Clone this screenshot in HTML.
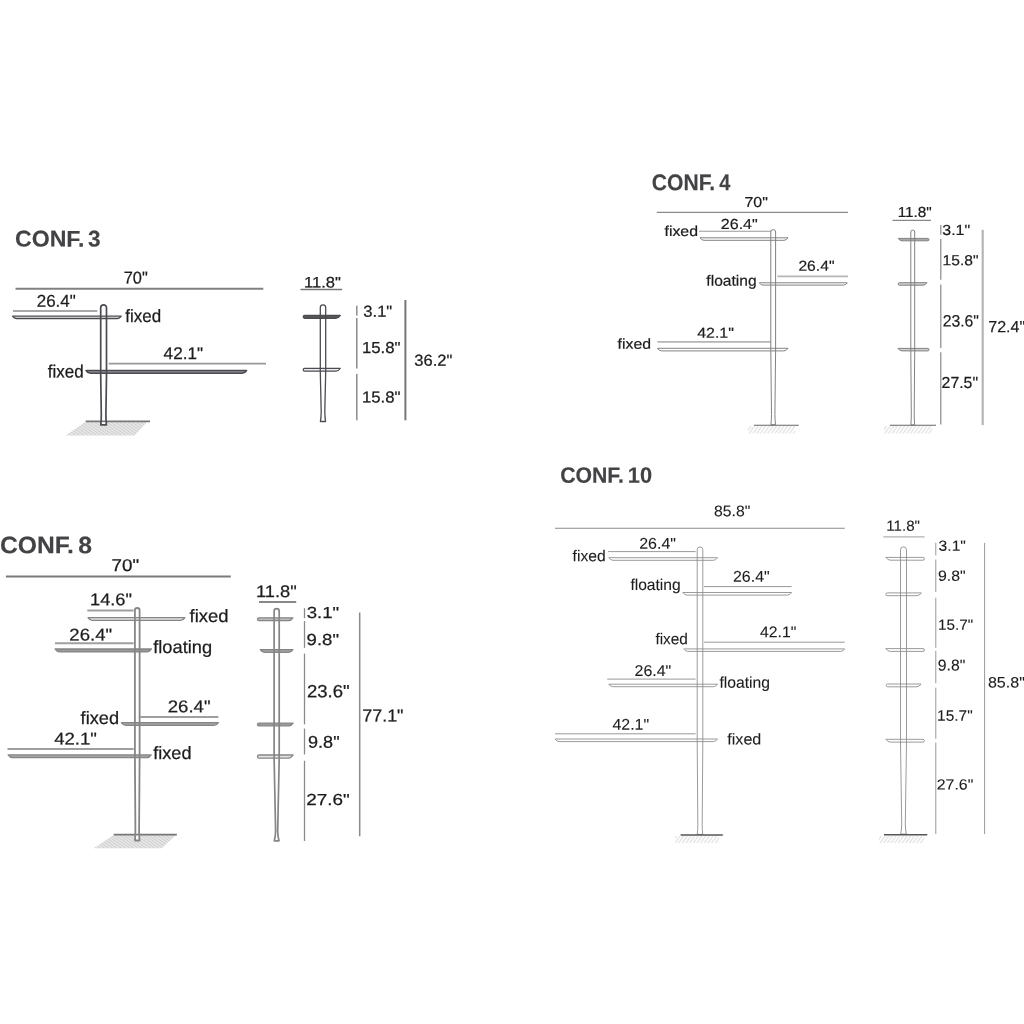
<!DOCTYPE html>
<html><head><meta charset="utf-8"><title>Configurations</title>
<style>
html,body{margin:0;padding:0;background:#fff;}
svg{display:block;filter:blur(0.35px);}
text{font-family:"Liberation Sans",sans-serif;}
</style></head><body>
<svg width="1024" height="1024" viewBox="0 0 1024 1024">
<defs>
<pattern id="hatA" width="2.4" height="2.4" patternUnits="userSpaceOnUse" patternTransform="rotate(35)"><rect width="2.4" height="2.4" fill="#ececec"/><line x1="0" y1="1.2" x2="2.4" y2="1.2" stroke="#cdcdcd" stroke-width="1.1"/></pattern>
<pattern id="hatB" width="3" height="3" patternUnits="userSpaceOnUse" patternTransform="rotate(-55)"><line x1="0" y1="1.5" x2="3" y2="1.5" stroke="#e0e0e0" stroke-width="1.2"/></pattern>
</defs>
<rect width="1024" height="1024" fill="#fff"/>
<text transform="rotate(0.04 15.0 246.6)" x="14.99" y="246.60" font-size="22.82" textLength="69.35" lengthAdjust="spacingAndGlyphs" fill="#434346" stroke="#434346" stroke-width="0.15" font-weight="bold">CONF.</text>
<text transform="rotate(0.04 88.1 246.6)" x="88.08" y="246.60" font-size="22.82" textLength="12.53" lengthAdjust="spacingAndGlyphs" fill="#434346" stroke="#434346" stroke-width="0.15" font-weight="bold">3</text>
<text transform="rotate(0.04 123.7 283.5)" x="123.66" y="283.50" font-size="17.15" textLength="24.04" lengthAdjust="spacingAndGlyphs" fill="#1c1c1c" stroke="#1c1c1c" stroke-width="0.25">70&quot;</text>
<line x1="15.5" y1="288.7" x2="263.3" y2="288.7" stroke="#808080" stroke-width="2.0"/>
<text transform="rotate(0.04 36.7 306.8)" x="36.75" y="306.80" font-size="17.15" textLength="38.97" lengthAdjust="spacingAndGlyphs" fill="#1c1c1c" stroke="#1c1c1c" stroke-width="0.25">26.4&quot;</text>
<line x1="13" y1="310.9" x2="97.3" y2="310.9" stroke="#a8a8a8" stroke-width="2.0"/>
<polygon points="86,421.5 147.5,421.5 134.5,435.5 65.5,435.5" fill="url(#hatA)"/>
<line x1="85.7" y1="421.4" x2="150" y2="421.4" stroke="#777" stroke-width="1.8"/>
<path d="M12.6,316.2 L121.2,316.2 Q119.728,318.5 117.51999999999998,318.5 L16.28000000000002,318.5 Q14.072000000000006,318.5 12.6,316.2 Z" fill="#eee" stroke="#4b4b52" stroke-width="1.3" stroke-linejoin="round"/>
<path d="M86,370.5 L246.6,370.5 Q244.808,373.3 242.11999999999998,373.3 L90.48000000000002,373.3 Q87.792,373.3 86,370.5 Z" fill="#8e8e94" stroke="#4b4b52" stroke-width="1.4" stroke-linejoin="round"/>
<rect x="101.8" y="422.3" width="3.6" height="2.4" fill="#fff"/>
<path d="M100.79,424.8 Q101.30,419.8 101.30,414.8 L100.7,375 L100.7,307.7 A2.8999999999999986,2.8999999999999986 0 0 1 106.5,307.7 L106.5,375 L105.90,414.8 Q105.90,419.8 106.41,424.8 Z" fill="none" stroke="#4b4b52" stroke-width="1.7" stroke-linejoin="round"/>
<text transform="rotate(0.04 125.3 322.0)" x="125.26" y="322.00" font-size="17.88" textLength="35.83" lengthAdjust="spacingAndGlyphs" fill="#1c1c1c" stroke="#1c1c1c" stroke-width="0.25">fixed</text>
<text transform="rotate(0.04 163.6 358.9)" x="163.61" y="358.90" font-size="16.86" textLength="39.42" lengthAdjust="spacingAndGlyphs" fill="#1c1c1c" stroke="#1c1c1c" stroke-width="0.25">42.1&quot;</text>
<line x1="108.7" y1="363.6" x2="266" y2="363.6" stroke="#999" stroke-width="1.7"/>
<text transform="rotate(0.04 47.9 377.5)" x="47.86" y="377.50" font-size="17.88" textLength="35.94" lengthAdjust="spacingAndGlyphs" fill="#1c1c1c" stroke="#1c1c1c" stroke-width="0.25">fixed</text>
<text transform="rotate(0.04 304.1 287.6)" x="304.08" y="287.60" font-size="15.26" textLength="36.80" lengthAdjust="spacingAndGlyphs" fill="#1c1c1c" stroke="#1c1c1c" stroke-width="0.25">11.8&quot;</text>
<line x1="300.5" y1="289.5" x2="342.2" y2="289.5" stroke="#777" stroke-width="1.5"/>
<path d="M304.70,315.3 L340.4,315.3 Q338.48,318.3 335.60,318.3 L304.70,318.3 A1.50,1.50 0 0 1 304.70,315.3 Z" fill="#555" stroke="#4b4b52" stroke-width="1.2" stroke-linejoin="round"/>
<path d="M304.60,368.3 L340.4,368.3 Q338.61,371.1 335.92,371.1 L304.60,371.1 A1.40,1.40 0 0 1 304.60,368.3 Z" fill="#eee" stroke="#4b4b52" stroke-width="1.2" stroke-linejoin="round"/>
<path d="M320.44,421.5 Q321.20,416.5 321.20,411.5 L320.3,372 L320.3,307.5 A2.6999999999999886,2.6999999999999886 0 0 1 325.7,307.5 L325.7,372 L324.80,411.5 Q324.80,416.5 325.56,421.5 Z" fill="none" stroke="#4b4b52" stroke-width="1.3" stroke-linejoin="round"/>
<line x1="356.8" y1="305.7" x2="356.8" y2="315.4" stroke="#8c8c8c" stroke-width="1.5"/>
<line x1="356.8" y1="318" x2="356.8" y2="368.6" stroke="#8c8c8c" stroke-width="1.5"/>
<line x1="356.8" y1="374" x2="356.8" y2="420.3" stroke="#8c8c8c" stroke-width="1.5"/>
<line x1="405.4" y1="300" x2="405.4" y2="420.3" stroke="#777" stroke-width="2.0"/>
<text transform="rotate(0.04 363.4 316.7)" x="363.37" y="316.70" font-size="15.99" textLength="28.83" lengthAdjust="spacingAndGlyphs" fill="#1c1c1c" stroke="#1c1c1c" stroke-width="0.25">3.1&quot;</text>
<text transform="rotate(0.04 361.9 353.1)" x="361.92" y="353.10" font-size="15.99" textLength="38.59" lengthAdjust="spacingAndGlyphs" fill="#1c1c1c" stroke="#1c1c1c" stroke-width="0.25">15.8&quot;</text>
<text transform="rotate(0.04 361.9 402.5)" x="361.92" y="402.50" font-size="15.99" textLength="38.59" lengthAdjust="spacingAndGlyphs" fill="#1c1c1c" stroke="#1c1c1c" stroke-width="0.25">15.8&quot;</text>
<text transform="rotate(0.04 414.4 365.7)" x="414.37" y="365.70" font-size="15.99" textLength="37.93" lengthAdjust="spacingAndGlyphs" fill="#1c1c1c" stroke="#1c1c1c" stroke-width="0.25">36.2&quot;</text>
<text transform="rotate(0.04 651.9 190.3)" x="651.87" y="190.30" font-size="22.82" textLength="63.23" lengthAdjust="spacingAndGlyphs" fill="#434346" stroke="#434346" stroke-width="0.15" font-weight="bold">CONF.</text>
<text transform="rotate(0.04 719.3 190.3)" x="719.30" y="190.30" font-size="22.82" textLength="11.11" lengthAdjust="spacingAndGlyphs" fill="#434346" stroke="#434346" stroke-width="0.15" font-weight="bold">4</text>
<text transform="rotate(0.04 744.5 206.9)" x="744.48" y="206.90" font-size="14.39" textLength="23.39" lengthAdjust="spacingAndGlyphs" fill="#1c1c1c" stroke="#1c1c1c" stroke-width="0.2">70&quot;</text>
<line x1="656.8" y1="212.3" x2="848" y2="212.3" stroke="#8a8a8a" stroke-width="1.2"/>
<text transform="rotate(0.04 664.5 235.9)" x="664.48" y="235.90" font-size="14.39" textLength="33.55" lengthAdjust="spacingAndGlyphs" fill="#1c1c1c" stroke="#1c1c1c" stroke-width="0.2">fixed</text>
<text transform="rotate(0.04 720.8 229.0)" x="720.79" y="229.00" font-size="14.54" textLength="36.99" lengthAdjust="spacingAndGlyphs" fill="#1c1c1c" stroke="#1c1c1c" stroke-width="0.2">26.4&quot;</text>
<line x1="699" y1="231.2" x2="771" y2="231.2" stroke="#999" stroke-width="1.1"/>
<path d="M700,237.8 L788,237.8 Q786.4,240.3 784.0,240.3 L704.0,240.3 Q701.6,240.3 700,237.8 Z" fill="none" stroke="#828282" stroke-width="1.0" stroke-linejoin="round"/>
<text transform="rotate(0.04 798.4 270.7)" x="798.41" y="270.70" font-size="14.39" textLength="36.05" lengthAdjust="spacingAndGlyphs" fill="#1c1c1c" stroke="#1c1c1c" stroke-width="0.2">26.4&quot;</text>
<line x1="777.5" y1="276.3" x2="848" y2="276.3" stroke="#b5b5b5" stroke-width="1.7"/>
<path d="M759.3,282.8 L847.3,282.8 Q845.828,285.1 843.6199999999999,285.1 L762.98,285.1 Q760.7719999999999,285.1 759.3,282.8 Z" fill="none" stroke="#828282" stroke-width="1.0" stroke-linejoin="round"/>
<text transform="rotate(0.04 706.4 285.8)" x="706.38" y="285.80" font-size="14.97" textLength="50.22" lengthAdjust="spacingAndGlyphs" fill="#1c1c1c" stroke="#1c1c1c" stroke-width="0.2">floating</text>
<text transform="rotate(0.04 697.2 337.7)" x="697.23" y="337.70" font-size="14.39" textLength="36.64" lengthAdjust="spacingAndGlyphs" fill="#1c1c1c" stroke="#1c1c1c" stroke-width="0.2">42.1&quot;</text>
<line x1="657.4" y1="341.8" x2="771" y2="341.8" stroke="#b5b5b5" stroke-width="1.7"/>
<path d="M657.4,348.3 L788,348.3 Q786.336,350.9 783.84,350.9 L661.56,350.9 Q659.064,350.9 657.4,348.3 Z" fill="none" stroke="#828282" stroke-width="1.0" stroke-linejoin="round"/>
<text transform="rotate(0.04 617.6 348.7)" x="617.58" y="348.70" font-size="14.39" textLength="33.44" lengthAdjust="spacingAndGlyphs" fill="#1c1c1c" stroke="#1c1c1c" stroke-width="0.2">fixed</text>
<path d="M770.90,424.7 Q771.50,419.7 771.50,414.7 L770.8,351 L770.8,232.00000000000003 A2.400000000000034,2.400000000000034 0 0 1 775.6,232.00000000000003 L775.6,351 L774.90,414.7 Q774.90,419.7 775.50,424.7 Z" fill="none" stroke="#828282" stroke-width="1.0" stroke-linejoin="round"/>
<line x1="754" y1="425.3" x2="798.8" y2="425.3" stroke="#666" stroke-width="1.1"/>
<rect x="748" y="426" width="47" height="7.5" fill="url(#hatB)"/>
<text transform="rotate(0.04 897.7 217.0)" x="897.67" y="217.00" font-size="14.54" textLength="34.16" lengthAdjust="spacingAndGlyphs" fill="#1c1c1c" stroke="#1c1c1c" stroke-width="0.2">11.8&quot;</text>
<line x1="892.5" y1="220.3" x2="931" y2="220.3" stroke="#888" stroke-width="1.2"/>
<path d="M927.80,238.4 L898.2,238.4 Q899.74,240.8 902.04,240.8 L927.80,240.8 A1.20,1.20 0 0 0 927.80,238.4 Z" fill="#aaa" stroke="#828282" stroke-width="1.0" stroke-linejoin="round"/>
<path d="M899.45,282.7 L927,282.7 Q925.40,285.2 923.00,285.2 L899.45,285.2 A1.25,1.25 0 0 1 899.45,282.7 Z" fill="#cfcfcf" stroke="#828282" stroke-width="1.0" stroke-linejoin="round"/>
<path d="M927.85,348.4 L898,348.4 Q899.60,350.9 902.00,350.9 L927.85,350.9 A1.25,1.25 0 0 0 927.85,348.4 Z" fill="#cfcfcf" stroke="#828282" stroke-width="1.0" stroke-linejoin="round"/>
<path d="M910.88,424.9 Q911.30,419.9 911.30,414.9 L910.8,351 L910.8,232.05000000000004 A1.9500000000000455,1.9500000000000455 0 0 1 914.7,232.05000000000004 L914.7,351 L914.20,414.9 Q914.20,419.9 914.62,424.9 Z" fill="none" stroke="#828282" stroke-width="1.0" stroke-linejoin="round"/>
<line x1="940.8" y1="225.1" x2="940.8" y2="234.7" stroke="#8a8a8a" stroke-width="1.2"/>
<line x1="940.8" y1="238.7" x2="940.8" y2="279.7" stroke="#8a8a8a" stroke-width="1.2"/>
<line x1="940.8" y1="284.4" x2="940.8" y2="347.9" stroke="#8a8a8a" stroke-width="1.2"/>
<line x1="940.8" y1="352.2" x2="940.8" y2="424.6" stroke="#8a8a8a" stroke-width="1.2"/>
<line x1="982.7" y1="229.8" x2="982.7" y2="425" stroke="#b2b2b2" stroke-width="2.1"/>
<text transform="rotate(0.04 942.3 234.9)" x="942.29" y="234.90" font-size="14.68" textLength="27.89" lengthAdjust="spacingAndGlyphs" fill="#1c1c1c" stroke="#1c1c1c" stroke-width="0.2">3.1&quot;</text>
<text transform="rotate(0.04 942.6 265.3)" x="942.61" y="265.30" font-size="14.68" textLength="35.85" lengthAdjust="spacingAndGlyphs" fill="#1c1c1c" stroke="#1c1c1c" stroke-width="0.2">15.8&quot;</text>
<text transform="rotate(0.04 942.7 326.5)" x="942.71" y="326.50" font-size="16.42" textLength="36.26" lengthAdjust="spacingAndGlyphs" fill="#1c1c1c" stroke="#1c1c1c" stroke-width="0.2">23.6&quot;</text>
<text transform="rotate(0.04 988.3 332.2)" x="988.28" y="332.20" font-size="16.28" textLength="36.90" lengthAdjust="spacingAndGlyphs" fill="#1c1c1c" stroke="#1c1c1c" stroke-width="0.2">72.4&quot;</text>
<text transform="rotate(0.04 941.6 387.9)" x="941.60" y="387.90" font-size="16.13" textLength="36.47" lengthAdjust="spacingAndGlyphs" fill="#1c1c1c" stroke="#1c1c1c" stroke-width="0.2">27.5&quot;</text>
<line x1="890" y1="425.3" x2="936" y2="425.3" stroke="#666" stroke-width="1.1"/>
<rect x="884" y="426" width="48" height="7.5" fill="url(#hatB)"/>
<text transform="rotate(0.04 0.0 553.2)" x="0.03" y="553.20" font-size="23.84" textLength="73.91" lengthAdjust="spacingAndGlyphs" fill="#434346" stroke="#434346" stroke-width="0.15" font-weight="bold">CONF.</text>
<text transform="rotate(0.04 78.3 553.2)" x="78.32" y="553.20" font-size="23.84" textLength="13.74" lengthAdjust="spacingAndGlyphs" fill="#434346" stroke="#434346" stroke-width="0.15" font-weight="bold">8</text>
<text transform="rotate(0.04 111.5 571.1)" x="111.54" y="571.10" font-size="17.01" textLength="27.56" lengthAdjust="spacingAndGlyphs" fill="#1c1c1c" stroke="#1c1c1c" stroke-width="0.25">70&quot;</text>
<line x1="5.9" y1="576.5" x2="230.8" y2="576.5" stroke="#7a7a7a" stroke-width="1.9"/>
<text transform="rotate(0.04 90.0 605.2)" x="90.01" y="605.20" font-size="17.01" textLength="41.96" lengthAdjust="spacingAndGlyphs" fill="#1c1c1c" stroke="#1c1c1c" stroke-width="0.25">14.6&quot;</text>
<line x1="87.3" y1="610.6" x2="133.6" y2="610.6" stroke="#9f9f9f" stroke-width="2.0"/>
<path d="M88,617.7 L184.9,617.7 Q183.17200000000005,620.4 180.58000000000013,620.4 L92.3199999999999,620.4 Q89.72799999999995,620.4 88,617.7 Z" fill="#e4e4e4" stroke="#858585" stroke-width="1.3" stroke-linejoin="round"/>
<text transform="rotate(0.04 189.5 621.9)" x="189.54" y="621.90" font-size="17.88" textLength="38.95" lengthAdjust="spacingAndGlyphs" fill="#1c1c1c" stroke="#1c1c1c" stroke-width="0.25">fixed</text>
<text transform="rotate(0.04 69.4 640.4)" x="69.37" y="640.40" font-size="17.01" textLength="42.72" lengthAdjust="spacingAndGlyphs" fill="#1c1c1c" stroke="#1c1c1c" stroke-width="0.25">26.4&quot;</text>
<line x1="55" y1="643.3" x2="133.6" y2="643.3" stroke="#9f9f9f" stroke-width="2.0"/>
<path d="M55,649.0 L151.5,649.0 Q149.644,651.9 146.86000000000004,651.9 L59.639999999999965,651.9 Q56.85599999999999,651.9 55,649.0 Z" fill="#999" stroke="#858585" stroke-width="1.3" stroke-linejoin="round"/>
<text transform="rotate(0.04 153.2 653.1)" x="153.24" y="653.10" font-size="17.88" textLength="58.83" lengthAdjust="spacingAndGlyphs" fill="#1c1c1c" stroke="#1c1c1c" stroke-width="0.25">floating</text>
<text transform="rotate(0.04 167.8 712.3)" x="167.77" y="712.30" font-size="17.01" textLength="42.72" lengthAdjust="spacingAndGlyphs" fill="#1c1c1c" stroke="#1c1c1c" stroke-width="0.25">26.4&quot;</text>
<line x1="140.3" y1="717" x2="218.4" y2="717" stroke="#9f9f9f" stroke-width="1.9"/>
<path d="M121.4,722.6 L218.4,722.6 Q216.60800000000003,725.4 213.92000000000007,725.4 L125.87999999999994,725.4 Q123.19199999999998,725.4 121.4,722.6 Z" fill="#a5a5a5" stroke="#858585" stroke-width="1.3" stroke-linejoin="round"/>
<text transform="rotate(0.04 80.6 724.0)" x="80.64" y="724.00" font-size="17.88" textLength="38.43" lengthAdjust="spacingAndGlyphs" fill="#1c1c1c" stroke="#1c1c1c" stroke-width="0.25">fixed</text>
<text transform="rotate(0.04 54.2 744.4)" x="54.17" y="744.40" font-size="17.01" textLength="42.71" lengthAdjust="spacingAndGlyphs" fill="#1c1c1c" stroke="#1c1c1c" stroke-width="0.25">42.1&quot;</text>
<line x1="7.5" y1="749.1" x2="133.6" y2="749.1" stroke="#9f9f9f" stroke-width="2.0"/>
<path d="M8.2,754.9 L151.2,754.9 Q149.40799999999996,757.7 146.71999999999989,757.7 L12.68000000000011,757.7 Q9.992000000000044,757.7 8.2,754.9 Z" fill="#a5a5a5" stroke="#858585" stroke-width="1.3" stroke-linejoin="round"/>
<text transform="rotate(0.04 153.2 759.0)" x="153.24" y="759.00" font-size="17.88" textLength="38.22" lengthAdjust="spacingAndGlyphs" fill="#1c1c1c" stroke="#1c1c1c" stroke-width="0.25">fixed</text>
<polygon points="113.7,835 176,835 161.7,848.3 93.7,848.3" fill="url(#hatA)"/>
<line x1="113.7" y1="834.7" x2="176.9" y2="834.7" stroke="#777" stroke-width="1.8"/>
<rect x="135.3" y="835.6" width="3.9" height="4.6" fill="#fff"/>
<path d="M134.97,840.5 Q135.40,835.5 135.40,830.5 L134.9,758 L134.9,610.35 A2.3499999999999943,2.3499999999999943 0 0 1 139.6,610.35 L139.6,758 L139.10,830.5 Q139.10,835.5 139.53,840.5 Z" fill="none" stroke="#858585" stroke-width="1.8" stroke-linejoin="round"/>
<text transform="rotate(0.04 256.0 597.1)" x="255.95" y="597.10" font-size="16.72" textLength="40.70" lengthAdjust="spacingAndGlyphs" fill="#1c1c1c" stroke="#1c1c1c" stroke-width="0.25">11.8&quot;</text>
<line x1="259" y1="602.0" x2="296.2" y2="602.0" stroke="#888" stroke-width="1.9"/>
<path d="M258.90,617.8 L292.9,617.8 Q291.11,620.6 288.42,620.6 L258.90,620.6 A1.40,1.40 0 0 1 258.90,617.8 Z" fill="#bdbdbd" stroke="#858585" stroke-width="1.3" stroke-linejoin="round"/>
<path d="M260.3,649.7 L292.9,649.7 Q291.172,652.4 288.5800000000001,652.4 L264.6199999999999,652.4 Q262.02799999999996,652.4 260.3,649.7 Z" fill="#a5a5a5" stroke="#858585" stroke-width="1.3" stroke-linejoin="round"/>
<path d="M258.80,723.2 L293.1,723.2 Q291.44,725.8 288.94,725.8 L258.80,725.8 A1.30,1.30 0 0 1 258.80,723.2 Z" fill="#999" stroke="#858585" stroke-width="1.3" stroke-linejoin="round"/>
<path d="M259.10,755.0 L293.1,755.0 Q291.05,758.2 287.98,758.2 L259.10,758.2 A1.60,1.60 0 0 1 259.10,755.0 Z" fill="#e4e4e4" stroke="#858585" stroke-width="1.3" stroke-linejoin="round"/>
<path d="M274.33,840.8 Q275.60,835.8 275.60,830.8 L274.1,758 L274.1,611.15 A2.549999999999983,2.549999999999983 0 0 1 279.2,611.15 L279.2,758 L277.70,830.8 Q277.70,835.8 278.97,840.8 Z" fill="none" stroke="#858585" stroke-width="1.7" stroke-linejoin="round"/>
<line x1="304.5" y1="608.2" x2="304.5" y2="618.2" stroke="#8a8a8a" stroke-width="1.3"/>
<line x1="304.5" y1="621" x2="304.5" y2="647.9" stroke="#8a8a8a" stroke-width="1.3"/>
<line x1="304.5" y1="653.6" x2="304.5" y2="724.4" stroke="#8a8a8a" stroke-width="1.3"/>
<line x1="304.5" y1="728.6" x2="304.5" y2="754.5" stroke="#8a8a8a" stroke-width="1.3"/>
<line x1="304.5" y1="760.8" x2="304.5" y2="841" stroke="#8a8a8a" stroke-width="1.3"/>
<line x1="359.7" y1="612.5" x2="359.7" y2="836.3" stroke="#8a8a8a" stroke-width="1.5"/>
<text transform="rotate(0.04 306.8 617.9)" x="306.79" y="617.90" font-size="15.99" textLength="32.40" lengthAdjust="spacingAndGlyphs" fill="#1c1c1c" stroke="#1c1c1c" stroke-width="0.25">3.1&quot;</text>
<text transform="rotate(0.04 306.6 644.9)" x="306.63" y="644.90" font-size="15.99" textLength="32.36" lengthAdjust="spacingAndGlyphs" fill="#1c1c1c" stroke="#1c1c1c" stroke-width="0.25">9.8&quot;</text>
<text transform="rotate(0.04 307.0 697.3)" x="306.97" y="697.30" font-size="17.73" textLength="42.62" lengthAdjust="spacingAndGlyphs" fill="#1c1c1c" stroke="#1c1c1c" stroke-width="0.25">23.6&quot;</text>
<text transform="rotate(0.04 308.1 747.8)" x="308.05" y="747.80" font-size="17.01" textLength="31.51" lengthAdjust="spacingAndGlyphs" fill="#1c1c1c" stroke="#1c1c1c" stroke-width="0.25">9.8&quot;</text>
<text transform="rotate(0.04 306.4 804.9)" x="306.35" y="804.90" font-size="15.99" textLength="43.45" lengthAdjust="spacingAndGlyphs" fill="#1c1c1c" stroke="#1c1c1c" stroke-width="0.25">27.6&quot;</text>
<text transform="rotate(0.04 362.3 721.6)" x="362.28" y="721.60" font-size="17.44" textLength="41.18" lengthAdjust="spacingAndGlyphs" fill="#1c1c1c" stroke="#1c1c1c" stroke-width="0.25">77.1&quot;</text>
<text transform="rotate(0.04 560.2 482.8)" x="560.16" y="482.75" font-size="22.24" textLength="63.65" lengthAdjust="spacingAndGlyphs" fill="#434346" stroke="#434346" stroke-width="0.15" font-weight="bold">CONF.</text>
<text transform="rotate(0.04 627.8 482.8)" x="627.83" y="482.75" font-size="22.24" textLength="24.27" lengthAdjust="spacingAndGlyphs" fill="#434346" stroke="#434346" stroke-width="0.15" font-weight="bold">10</text>
<text transform="rotate(0.04 714.1 516.4)" x="714.12" y="516.35" font-size="15.41" textLength="36.15" lengthAdjust="spacingAndGlyphs" fill="#1c1c1c" stroke="#1c1c1c" stroke-width="0.1">85.8&quot;</text>
<line x1="555" y1="528.2" x2="844.7" y2="528.2" stroke="#8a8a8a" stroke-width="1.1"/>
<text transform="rotate(0.04 639.2 548.8)" x="639.20" y="548.75" font-size="15.55" textLength="36.78" lengthAdjust="spacingAndGlyphs" fill="#1c1c1c" stroke="#1c1c1c" stroke-width="0.1">26.4&quot;</text>
<line x1="608.1" y1="551.6" x2="695.6" y2="551.6" stroke="#999" stroke-width="1.0"/>
<text transform="rotate(0.04 572.6 561.2)" x="572.58" y="561.25" font-size="15.70" textLength="33.13" lengthAdjust="spacingAndGlyphs" fill="#1c1c1c" stroke="#1c1c1c" stroke-width="0.1">fixed</text>
<path d="M608.8,557.7 L717.5,557.7 Q715.836,560.3 713.3400000000001,560.3 L612.9599999999998,560.3 Q610.4639999999999,560.3 608.8,557.7 Z" fill="none" stroke="#8e8e8e" stroke-width="0.9" stroke-linejoin="round"/>
<text transform="rotate(0.04 733.0 581.6)" x="733.00" y="581.65" font-size="15.55" textLength="36.68" lengthAdjust="spacingAndGlyphs" fill="#1c1c1c" stroke="#1c1c1c" stroke-width="0.1">26.4&quot;</text>
<line x1="704" y1="586.6" x2="791.6" y2="586.6" stroke="#999" stroke-width="1.0"/>
<text transform="rotate(0.04 630.4 590.1)" x="630.38" y="590.05" font-size="15.70" textLength="50.33" lengthAdjust="spacingAndGlyphs" fill="#1c1c1c" stroke="#1c1c1c" stroke-width="0.1">floating</text>
<path d="M682.8,592.5 L791.6,592.5 Q789.936,595.1 787.4399999999999,595.1 L686.96,595.1 Q684.4639999999999,595.1 682.8,592.5 Z" fill="none" stroke="#8e8e8e" stroke-width="0.9" stroke-linejoin="round"/>
<text transform="rotate(0.04 759.9 637.4)" x="759.94" y="637.35" font-size="15.55" textLength="36.33" lengthAdjust="spacingAndGlyphs" fill="#1c1c1c" stroke="#1c1c1c" stroke-width="0.1">42.1&quot;</text>
<line x1="704" y1="642.2" x2="844.7" y2="642.2" stroke="#999" stroke-width="1.0"/>
<text transform="rotate(0.04 655.4 644.4)" x="655.38" y="644.35" font-size="15.70" textLength="32.51" lengthAdjust="spacingAndGlyphs" fill="#1c1c1c" stroke="#1c1c1c" stroke-width="0.1">fixed</text>
<path d="M683.8,648.9 L844.7,648.9 Q843.1,651.4 840.7,651.4 L687.8,651.4 Q685.4,651.4 683.8,648.9 Z" fill="none" stroke="#8e8e8e" stroke-width="0.9" stroke-linejoin="round"/>
<text transform="rotate(0.04 634.5 676.0)" x="634.50" y="675.95" font-size="15.55" textLength="36.78" lengthAdjust="spacingAndGlyphs" fill="#1c1c1c" stroke="#1c1c1c" stroke-width="0.1">26.4&quot;</text>
<line x1="607.2" y1="679.1" x2="695.6" y2="679.1" stroke="#999" stroke-width="1.0"/>
<path d="M608.8,684.2 L717.5,684.2 Q715.9,686.7 713.5,686.7 L612.8,686.7 Q610.4,686.7 608.8,684.2 Z" fill="none" stroke="#8e8e8e" stroke-width="0.9" stroke-linejoin="round"/>
<text transform="rotate(0.04 719.5 687.9)" x="719.48" y="687.85" font-size="15.70" textLength="50.53" lengthAdjust="spacingAndGlyphs" fill="#1c1c1c" stroke="#1c1c1c" stroke-width="0.1">floating</text>
<text transform="rotate(0.04 612.4 729.8)" x="612.43" y="729.75" font-size="15.55" textLength="36.64" lengthAdjust="spacingAndGlyphs" fill="#1c1c1c" stroke="#1c1c1c" stroke-width="0.1">42.1&quot;</text>
<line x1="555" y1="733.8" x2="695.6" y2="733.8" stroke="#999" stroke-width="1.0"/>
<path d="M555,739.0 L717.5,739.0 Q715.836,741.6 713.3399999999999,741.6 L559.1600000000001,741.6 Q556.664,741.6 555,739.0 Z" fill="none" stroke="#8e8e8e" stroke-width="0.9" stroke-linejoin="round"/>
<text transform="rotate(0.04 727.3 744.6)" x="727.27" y="744.55" font-size="15.70" textLength="34.07" lengthAdjust="spacingAndGlyphs" fill="#1c1c1c" stroke="#1c1c1c" stroke-width="0.1">fixed</text>
<path d="M697.29,834.4 Q697.80,829.4 697.80,824.4 L697.2,741 L697.2,549.6999999999999 A2.7999999999999545,2.7999999999999545 0 0 1 702.8,549.6999999999999 L702.8,741 L702.20,824.4 Q702.20,829.4 702.71,834.4 Z" fill="none" stroke="#8e8e8e" stroke-width="0.9" stroke-linejoin="round"/>
<line x1="680.6" y1="835" x2="722.8" y2="835" stroke="#555" stroke-width="1.6"/>
<rect x="675" y="836" width="44" height="7" fill="url(#hatB)"/>
<text transform="rotate(0.04 886.3 530.8)" x="886.28" y="530.75" font-size="14.68" textLength="33.74" lengthAdjust="spacingAndGlyphs" fill="#1c1c1c" stroke="#1c1c1c" stroke-width="0.1">11.8&quot;</text>
<line x1="883.3" y1="536.9" x2="924.5" y2="536.9" stroke="#b0b0b0" stroke-width="1.3"/>
<path d="M923.00,557.4 L885.8,557.4 Q887.59,560.1999999999999 890.28,560.1999999999999 L923.00,560.1999999999999 A1.40,1.40 0 0 0 923.00,557.4 Z" fill="none" stroke="#8e8e8e" stroke-width="0.9" stroke-linejoin="round"/>
<path d="M887.20,592.9 L921.3,592.9 Q919.51,595.6999999999999 916.82,595.6999999999999 L887.20,595.6999999999999 A1.40,1.40 0 0 1 887.20,592.9 Z" fill="none" stroke="#8e8e8e" stroke-width="0.9" stroke-linejoin="round"/>
<path d="M923.00,648.6 L885.8,648.6 Q887.59,651.4 890.28,651.4 L923.00,651.4 A1.40,1.40 0 0 0 923.00,648.6 Z" fill="none" stroke="#8e8e8e" stroke-width="0.9" stroke-linejoin="round"/>
<path d="M887.60,684.0 L921.1,684.0 Q919.31,686.8 916.62,686.8 L887.60,686.8 A1.40,1.40 0 0 1 887.60,684.0 Z" fill="none" stroke="#8e8e8e" stroke-width="0.9" stroke-linejoin="round"/>
<path d="M923.00,739.3000000000001 L885.8,739.3000000000001 Q887.59,742.1 890.28,742.1 L923.00,742.1 A1.40,1.40 0 0 0 923.00,739.3000000000001 Z" fill="none" stroke="#8e8e8e" stroke-width="0.9" stroke-linejoin="round"/>
<path d="M900.68,834 Q901.70,829.0 901.70,824.0 L900.5,742 L900.5,549.8 A3.0,3.0 0 0 1 906.5,549.8 L906.5,742 L905.30,824.0 Q905.30,829.0 906.32,834 Z" fill="none" stroke="#8e8e8e" stroke-width="0.9" stroke-linejoin="round"/>
<line x1="935.8" y1="542.7" x2="935.8" y2="555.5" stroke="#999" stroke-width="1.0"/>
<line x1="935.8" y1="559.5" x2="935.8" y2="592" stroke="#999" stroke-width="1.0"/>
<line x1="935.8" y1="597.7" x2="935.8" y2="647.8" stroke="#999" stroke-width="1.0"/>
<line x1="935.8" y1="650.8" x2="935.8" y2="683.2" stroke="#999" stroke-width="1.0"/>
<line x1="935.8" y1="687.7" x2="935.8" y2="738.8" stroke="#999" stroke-width="1.0"/>
<line x1="935.8" y1="742.6" x2="935.8" y2="834" stroke="#999" stroke-width="1.0"/>
<line x1="984.6" y1="542.9" x2="984.6" y2="834" stroke="#999" stroke-width="1.0"/>
<text transform="rotate(0.04 938.6 550.6)" x="938.61" y="550.65" font-size="14.68" textLength="27.26" lengthAdjust="spacingAndGlyphs" fill="#1c1c1c" stroke="#1c1c1c" stroke-width="0.1">3.1&quot;</text>
<text transform="rotate(0.04 938.0 580.8)" x="937.96" y="580.75" font-size="14.68" textLength="27.61" lengthAdjust="spacingAndGlyphs" fill="#1c1c1c" stroke="#1c1c1c" stroke-width="0.1">9.8&quot;</text>
<text transform="rotate(0.04 938.0 629.9)" x="938.03" y="629.85" font-size="14.68" textLength="35.22" lengthAdjust="spacingAndGlyphs" fill="#1c1c1c" stroke="#1c1c1c" stroke-width="0.1">15.7&quot;</text>
<text transform="rotate(0.04 937.9 670.5)" x="937.86" y="670.45" font-size="15.70" textLength="27.51" lengthAdjust="spacingAndGlyphs" fill="#1c1c1c" stroke="#1c1c1c" stroke-width="0.1">9.8&quot;</text>
<text transform="rotate(0.04 937.1 720.6)" x="937.12" y="720.65" font-size="15.26" textLength="35.53" lengthAdjust="spacingAndGlyphs" fill="#1c1c1c" stroke="#1c1c1c" stroke-width="0.1">15.7&quot;</text>
<text transform="rotate(0.04 936.8 789.6)" x="936.80" y="789.55" font-size="14.68" textLength="36.47" lengthAdjust="spacingAndGlyphs" fill="#1c1c1c" stroke="#1c1c1c" stroke-width="0.1">27.6&quot;</text>
<text transform="rotate(0.04 987.9 687.6)" x="987.90" y="687.55" font-size="15.12" textLength="36.98" lengthAdjust="spacingAndGlyphs" fill="#1c1c1c" stroke="#1c1c1c" stroke-width="0.1">85.8&quot;</text>
<line x1="884" y1="834.7" x2="927.3" y2="834.7" stroke="#555" stroke-width="1.6"/>
<rect x="879" y="836" width="45" height="7" fill="url(#hatB)"/>
</svg>
</body></html>
